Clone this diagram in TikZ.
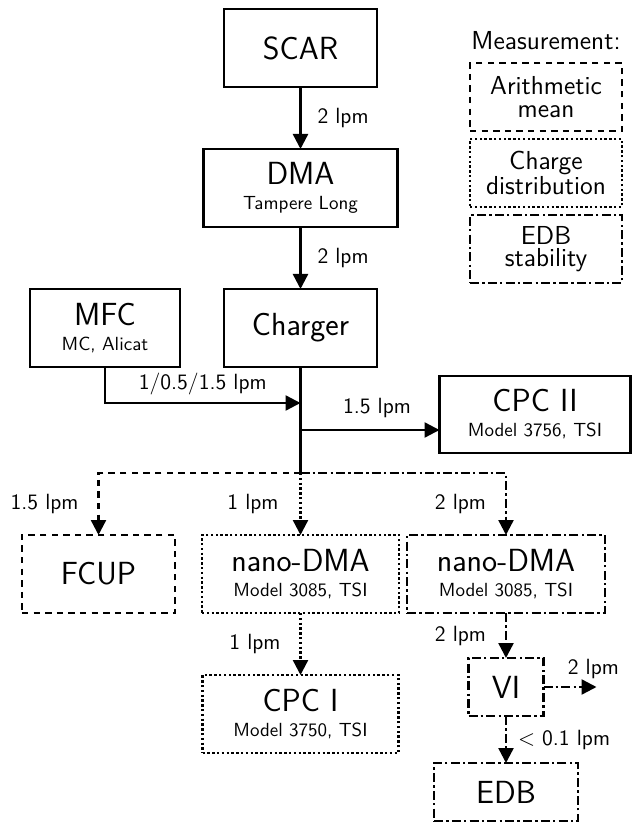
\documentclass[tikz,border=0pt]{standalone}
\usepackage{fontspec}
\usepackage{tikz}
\usetikzlibrary{positioning}
\usetikzlibrary{arrows.meta}
\newcommand{\mainsize}{\fontsize{16}{12.5}\selectfont}
\newcommand{\subsize}{\fontsize{9.5}{11}\selectfont}
\newcommand{\flowsize}{\fontsize{11}{13}\selectfont}
\newcommand{\legsize}{\fontsize{13}{11.3}\selectfont}

\begin{document}
\begin{tikzpicture}[
every path/.style={line width=1.2pt},
>={Triangle[length=7.5pt,width=7.5pt]},
box/.style={draw=black, font=\sffamily\mainsize, align=center, minimum height=39pt, inner sep=0, outer sep=0},
lgbox/.style={draw=black, font=\sffamily\legsize, align=center, minimum width=76pt, minimum height=34pt, inner sep=0, outer sep=0},
lbl/.style={font=\sffamily\flowsize, inner sep=0, outer sep=0},
dashpat/.style={dash pattern=on 3.2pt off 2.6pt},
dotpat/.style={dash pattern=on 1.2pt off 1.2pt},
dashdotpat/.style={dash pattern=on 4.5pt off 1.6pt on 1.2pt off 1.6pt}
]
\useasboundingbox (-150.25pt,24pt) rectangle (165.75pt,-387.5pt);
\node[box, minimum width=76.5pt] (scar) {SCAR};
\node[box, minimum width=97pt, below=31pt of scar] (dma) {DMA\\{\subsize Tampere Long}};
\node[box, minimum width=76.5pt, below=31pt of dma] (charger) {Charger};
\node[box, minimum width=75pt, left=22pt of charger] (mfc) {MFC\\{\subsize MC, Alicat}};
\coordinate[below=18pt of charger.south] (join);
\coordinate[below=31.5pt of charger.south] (tap);
\coordinate[below=53pt of charger.south] (split);
\node[box, minimum width=95.5pt, minimum height=38.5pt, below right=4.5pt and 69.5pt of charger.south] (cpcb) {CPC II\\{\subsize Model 3756, TSI}};
\node[box, minimum width=98.5pt, dotpat, below=31pt of split] (nanoa) {nano-DMA\\{\subsize Model 3085, TSI}};
\node[box, minimum width=76.5pt, dashpat, left=13.5pt of nanoa] (fcup) {FCUP};
\node[box, minimum width=99pt, dashdotpat, right=4pt of nanoa] (nanob) {nano-DMA\\{\subsize Model 3085, TSI}};
\node[box, minimum width=98pt, dotpat, below=31pt of nanoa] (cpca) {CPC I\\{\subsize Model 3750, TSI}};
\node[box, minimum width=37.5pt, minimum height=29pt, dashdotpat, below=22.5pt of nanob] (vi) {VI};
\node[box, minimum width=72pt, minimum height=29pt, dashdotpat, below=23.5pt of vi] (edb) {EDB};
\coordinate[right=26.5pt of vi] (vout);
\node[lbl, font=\sffamily\legsize, anchor=south] (meas) at (122.75pt,-1pt) {Measurement:};
\node[lgbox, dashpat, below=6.5pt of meas] (lgmean) {Arithmetic\\mean};
\node[lgbox, dotpat, below=4pt of lgmean] (lgcharge) {Charge\\distribution};
\node[lgbox, dashdotpat, below=4pt of lgcharge] (lgedb) {EDB\\stability};

\draw[->] (scar) -- node[lbl, right=8.5pt] {2 lpm} (dma);
\draw[->] (dma) -- node[lbl, right=8.5pt] {2 lpm} (charger);
\draw[->] (mfc.south) |- node[lbl, above=4pt, pos=0.75] {1/0.5/1.5 lpm} (join);
\draw (charger.south) -- (split);
\draw[->] (tap) -- node[lbl, above=6pt, pos=0.55] {1.5 lpm} (tap -| cpcb.west);
\draw[->, dashpat] (split) -| node[lbl, left=10pt, pos=0.75] {1.5 lpm} (fcup.north);
\draw[->, dotpat] (split) -- node[lbl, left=11pt] {1 lpm} (nanoa);
\draw[->, dashdotpat] (split) -| node[lbl, left=10pt, pos=0.75] {2 lpm} (nanob.north);
\draw[->, dotpat] (nanoa) -- node[lbl, left=10pt] {1 lpm} (cpca);
\draw[->, dashdotpat] (nanob) -- node[lbl, left=10pt] {2 lpm} (vi);
\draw[->, dashdotpat] (vi) -- node[lbl, above=4pt, pos=0.94] {2 lpm} (vout);
\draw[->, dashdotpat] (vi) -- node[lbl, right=6pt] {$<$ 0.1 lpm} (edb);
\end{tikzpicture}
\end{document}
